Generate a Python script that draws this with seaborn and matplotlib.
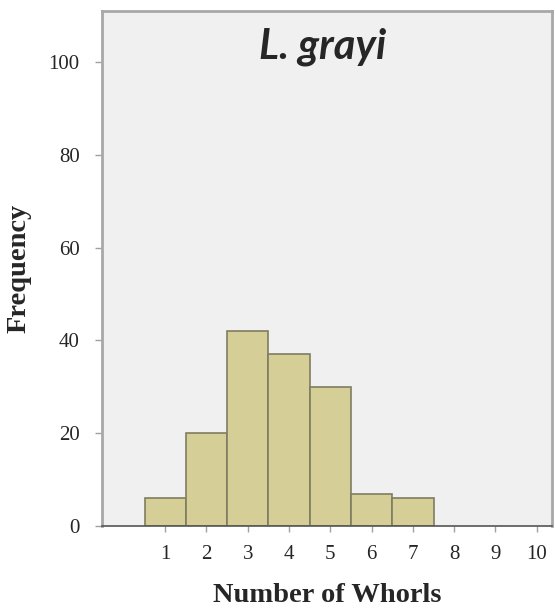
import matplotlib
matplotlib.use("Agg")
import matplotlib.pyplot as plt
import seaborn as sns
import pandas as pd

whorls = [1, 2, 3, 4, 5, 6, 7]
frequency = [6, 20, 42, 37, 30, 7, 6]
x_ticks = [1, 2, 3, 4, 5, 6, 7, 8, 9, 10]
y_ticks = [0, 20, 40, 60, 80, 100]
title = "L. grayi"

sns.set_style("white")
plt.rcParams['font.family'] = ['Liberation Serif', 'DejaVu Serif']

df = pd.DataFrame({"whorls": whorls, "frequency": frequency})

fig = plt.figure(figsize=(5.55, 6.09), dpi=100)
ax = fig.add_axes([102/555, 83/609, 450/555, 515/609])
ax.set_facecolor("#f0f0f0")

sns.histplot(data=df, x="whorls", weights="frequency", discrete=True,
             color="#d5cf97", edgecolor="#7f7d62", linewidth=1.2, alpha=1, ax=ax)

ax.set_xlim(-0.53, 10.37)
ax.set_ylim(0, 111)
ax.set_xticks(x_ticks)
ax.set_yticks(y_ticks)
ax.tick_params(axis="x", length=4, width=1, color="#a0a0a0", pad=10, labelsize=15)
ax.tick_params(axis="y", length=5, width=1, color="#a0a0a0", pad=11, labelsize=15)
ax.tick_params(bottom=True, left=True)

for s in ["left", "top", "right"]:
    ax.spines[s].set_color("#a8a8a8")
    ax.spines[s].set_linewidth(2)
ax.spines["bottom"].set_color("#555555")
ax.spines["bottom"].set_linewidth(1.2)

ax.set_xlabel("Number of Whorls", fontsize=20.5, fontweight="bold", labelpad=13)
ax.set_ylabel("Frequency", fontsize=20.5, fontweight="bold", labelpad=12)

ax.text(0.49, 0.93, title, transform=ax.transAxes, ha="center", va="center",
        fontsize=30, fontweight="bold", fontstyle="italic",
        family=["Lato", "DejaVu Sans"])

fig.savefig("out.png", dpi=100)
